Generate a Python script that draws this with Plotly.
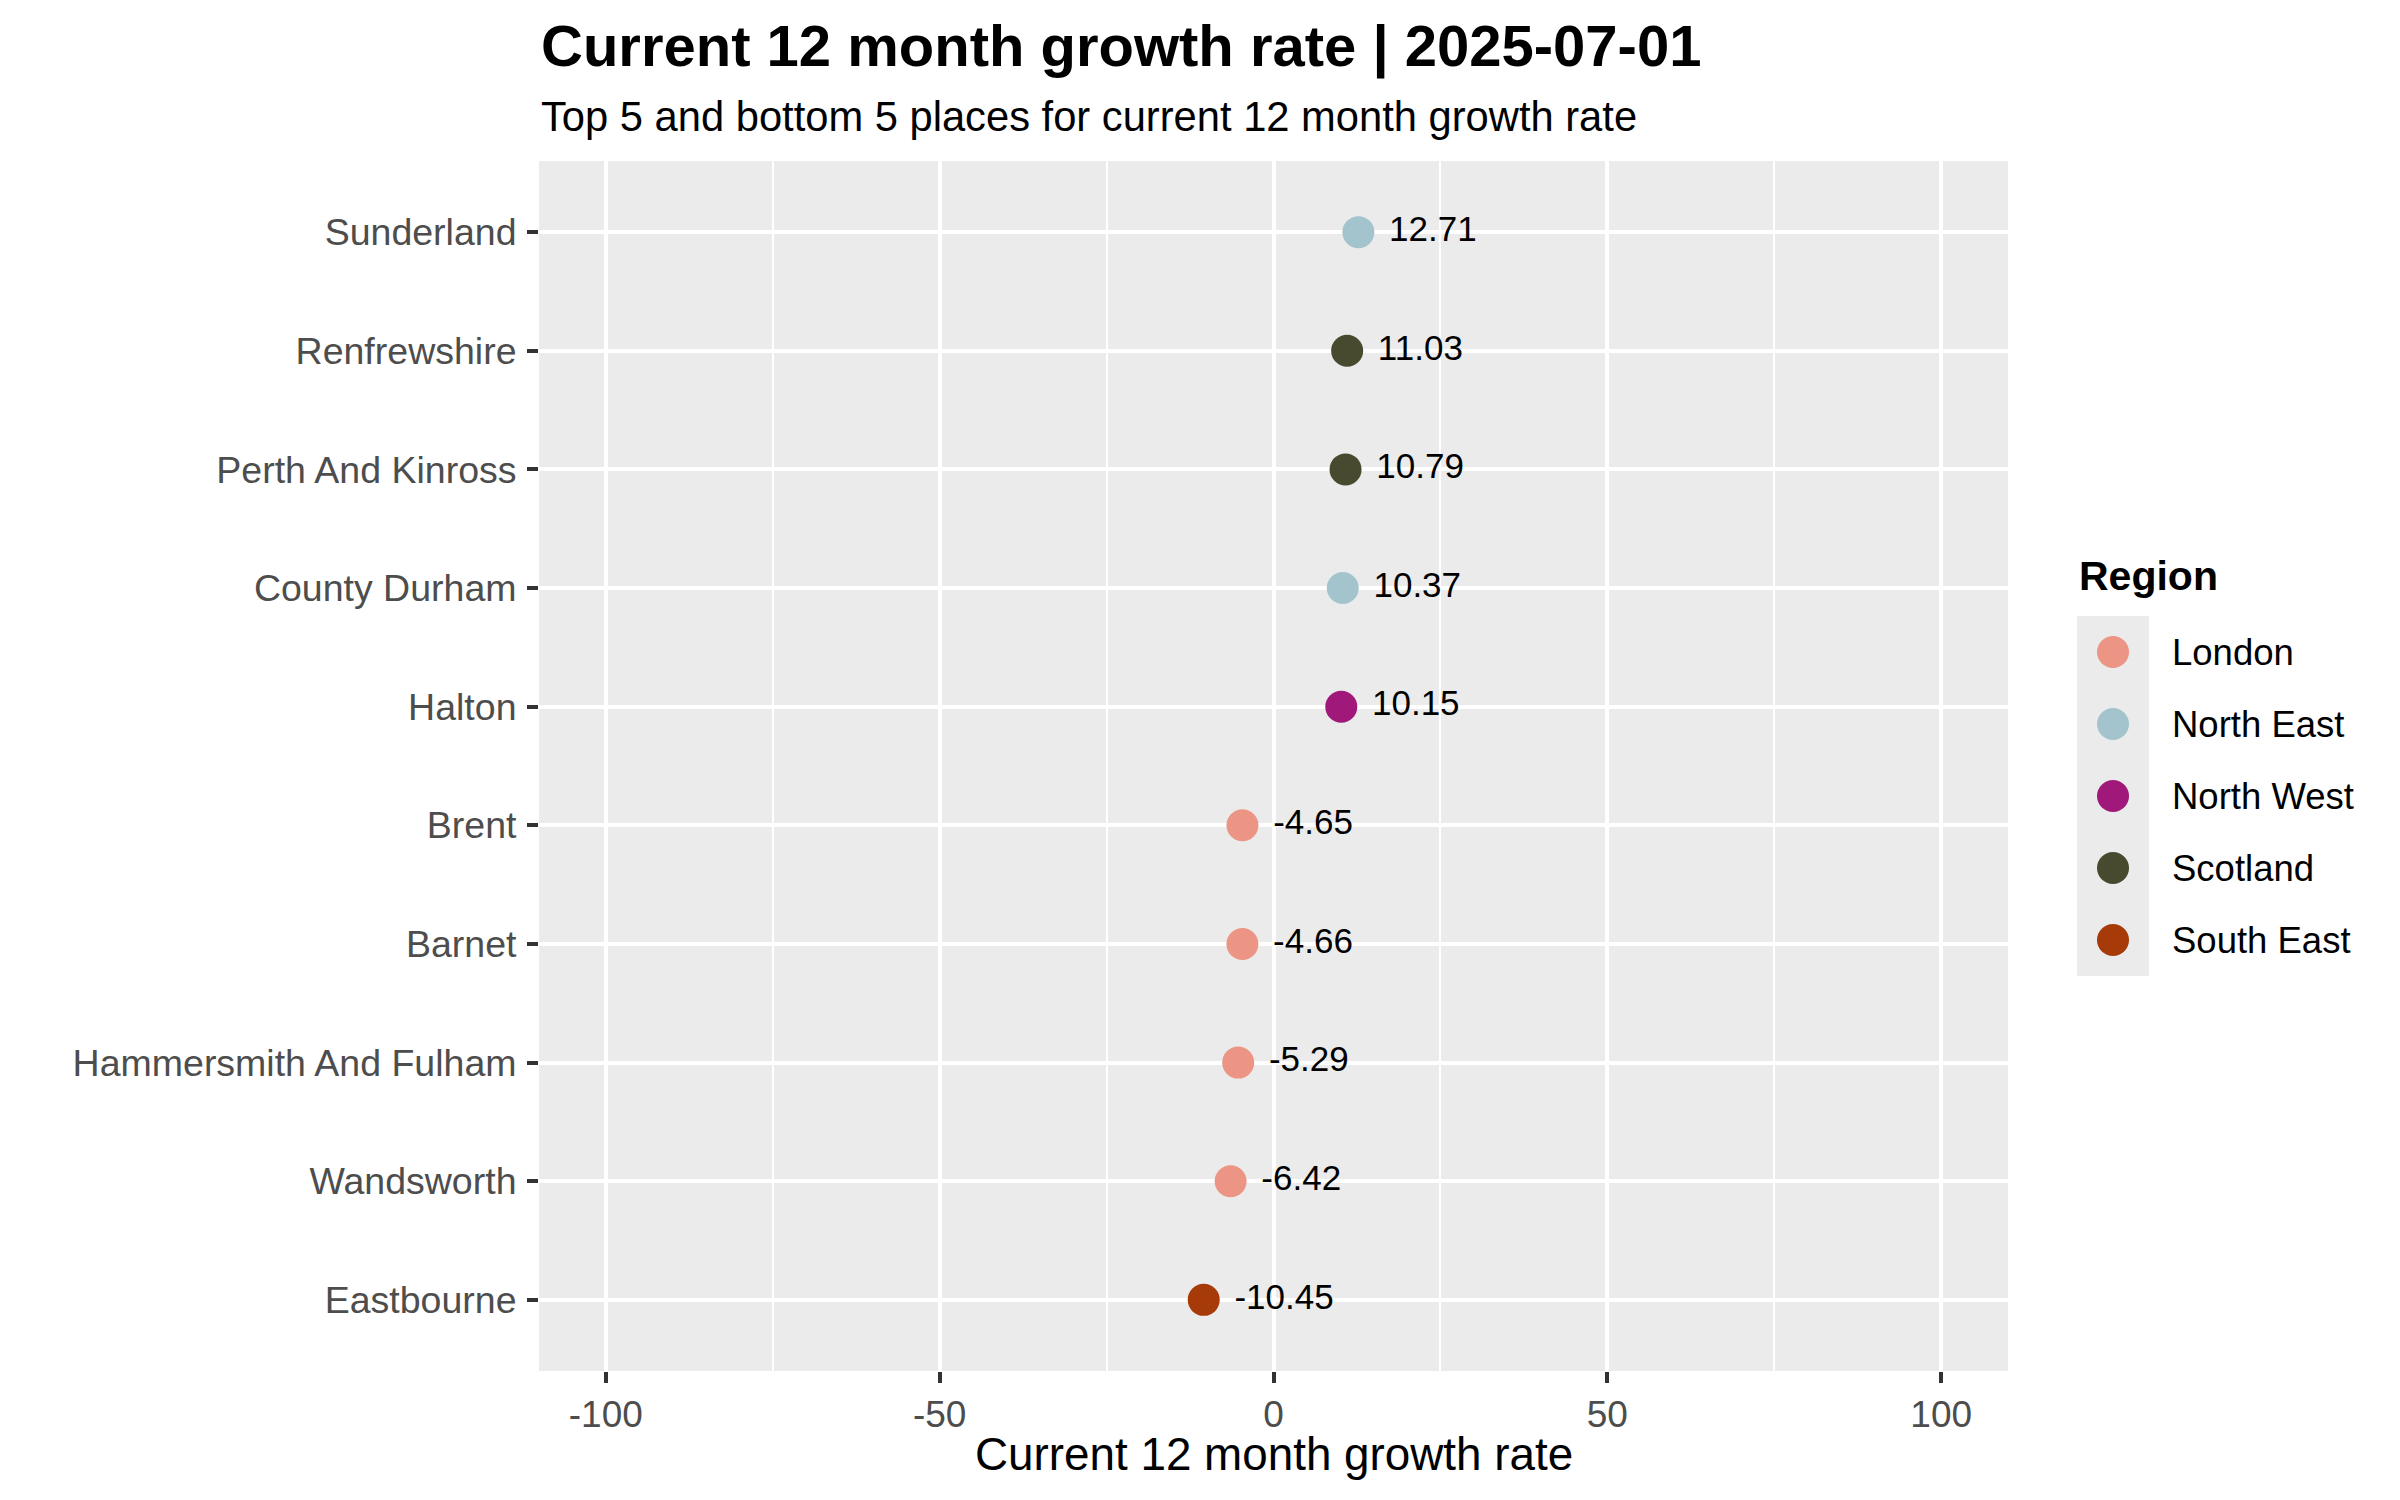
"""
Lollipop-style dot chart: top 5 and bottom 5 places by 12 month growth rate
"""
import plotly.graph_objects as go

# Data (top to bottom as drawn)
places = ["Sunderland", "Renfrewshire", "Perth And Kinross", "County Durham", "Halton",
          "Brent", "Barnet", "Hammersmith And Fulham", "Wandsworth", "Eastbourne"]
growth = [12.71, 11.03, 10.79, 10.37, 10.15, -4.65, -4.66, -5.29, -6.42, -10.45]
place_region = ["North East", "Scotland", "Scotland", "North East", "North West",
                "London", "London", "London", "London", "South East"]

regions = ["London", "North East", "North West", "Scotland", "South East"]
region_colors = ["#EC9585", "#A3C4CD", "#A0197A", "#474A2E", "#A63A08"]

x_ticks = [-100, -50, 0, 50, 100]
x_tick_labels = ["-100", "-50", "0", "50", "100"]

# Panel placement in pixels (2400 x 1500 canvas); plot area runs to the right edge
W, H = 2400, 1500
L, R, T, B = 539, 2008, 161, 1371


def px_x(x):
    return (x - L) / (W - L)


def px_y(y):
    return (B - y) / (B - T)


FONT = "Liberation Sans, Arial, Helvetica, sans-serif"
fig = go.Figure()

# Main chart: one trace per region
for region, color in zip(regions, region_colors):
    xs = [g for g, r in zip(growth, place_region) if r == region]
    ys = [p for p, r in zip(places, place_region) if r == region]
    fig.add_trace(go.Scatter(
        x=xs, y=ys,
        mode="markers+text",
        marker=dict(size=32, color=color, line=dict(width=0)),
        texttemplate="\u00a0%{x:.2f}",
        textposition="middle right",
        textfont=dict(family=FONT, size=35, color="black"),
        showlegend=False,
        hovertemplate="%{y}: %{x:.2f}<extra>" + region + "</extra>",
    ))

# Legend drawn as a small second subplot, like the ggplot key column
fig.add_trace(go.Scatter(
    x=[0] * len(regions), y=regions,
    mode="markers",
    marker=dict(size=32, color=region_colors),
    xaxis="x2", yaxis="y2",
    showlegend=False, hoverinfo="skip",
))

fig.update_layout(
    width=W, height=H,
    margin=dict(l=L, r=0, t=T, b=H - B, pad=0),
    paper_bgcolor="white",
    plot_bgcolor="#EBEBEB",
    font=dict(family=FONT, color="black"),
    xaxis=dict(
        domain=[0, px_x(R)],
        range=[-110, 110],
        tickmode="array", tickvals=x_ticks, ticktext=x_tick_labels,
        ticks="outside", ticklen=11, tickwidth=4, tickcolor="#333333",
        tickfont=dict(family=FONT, size=37, color="#4D4D4D"),
        showgrid=True, gridcolor="white", gridwidth=4.4,
        minor=dict(tickmode="linear", tick0=0, dtick=25, showgrid=True,
                   gridcolor="white", gridwidth=2.2, ticks=""),
        zeroline=False, showline=False, fixedrange=True,
    ),
    yaxis=dict(
        type="category",
        categoryorder="array", categoryarray=places,
        range=[len(places) - 0.4, -0.6],
        ticks="outside", ticklen=11, tickwidth=4, tickcolor="#333333",
        ticklabelstandoff=3,
        tickfont=dict(family=FONT, size=37.5, color="#4D4D4D"),
        showgrid=True, gridcolor="white", gridwidth=4.4,
        zeroline=False, showline=False, fixedrange=True,
    ),
    xaxis2=dict(
        domain=[px_x(2077), px_x(2149)], anchor="y2",
        range=[-1, 1], visible=False, fixedrange=True,
    ),
    yaxis2=dict(
        domain=[px_y(976), px_y(616)], anchor="x2",
        type="category",
        categoryorder="array", categoryarray=regions,
        range=[len(regions) - 0.5, -0.5],
        side="right", ticks="", ticklabelstandoff=22,
        tickfont=dict(family=FONT, size=36.5, color="black"),
        showgrid=False, zeroline=False, showline=False, fixedrange=True,
    ),
    annotations=[
        dict(text="<b>Current 12 month growth rate | 2025-07-01</b>",
             xref="paper", yref="paper", x=0, y=px_y(46),
             xanchor="left", yanchor="middle", showarrow=False,
             font=dict(family=FONT, size=58, color="black")),
        dict(text="Top 5 and bottom 5 places for current 12 month growth rate",
             xref="paper", yref="paper", x=0, y=px_y(117),
             xanchor="left", yanchor="middle", showarrow=False,
             font=dict(family=FONT, size=41.7, color="black")),
        dict(text="Current 12 month growth rate",
             xref="paper", yref="paper", x=px_x((L + R) / 2), y=px_y(1455),
             xanchor="center", yanchor="middle", showarrow=False,
             font=dict(family=FONT, size=45.8, color="black")),
        dict(text="<b>Region</b>",
             xref="paper", yref="paper", x=px_x(2077), y=px_y(576),
             xanchor="left", yanchor="middle", showarrow=False,
             font=dict(family=FONT, size=41, color="black")),
    ],
)

fig.write_html("out.html", config={"displayModeBar": False},
               post_script="document.body.style.margin='0';")
